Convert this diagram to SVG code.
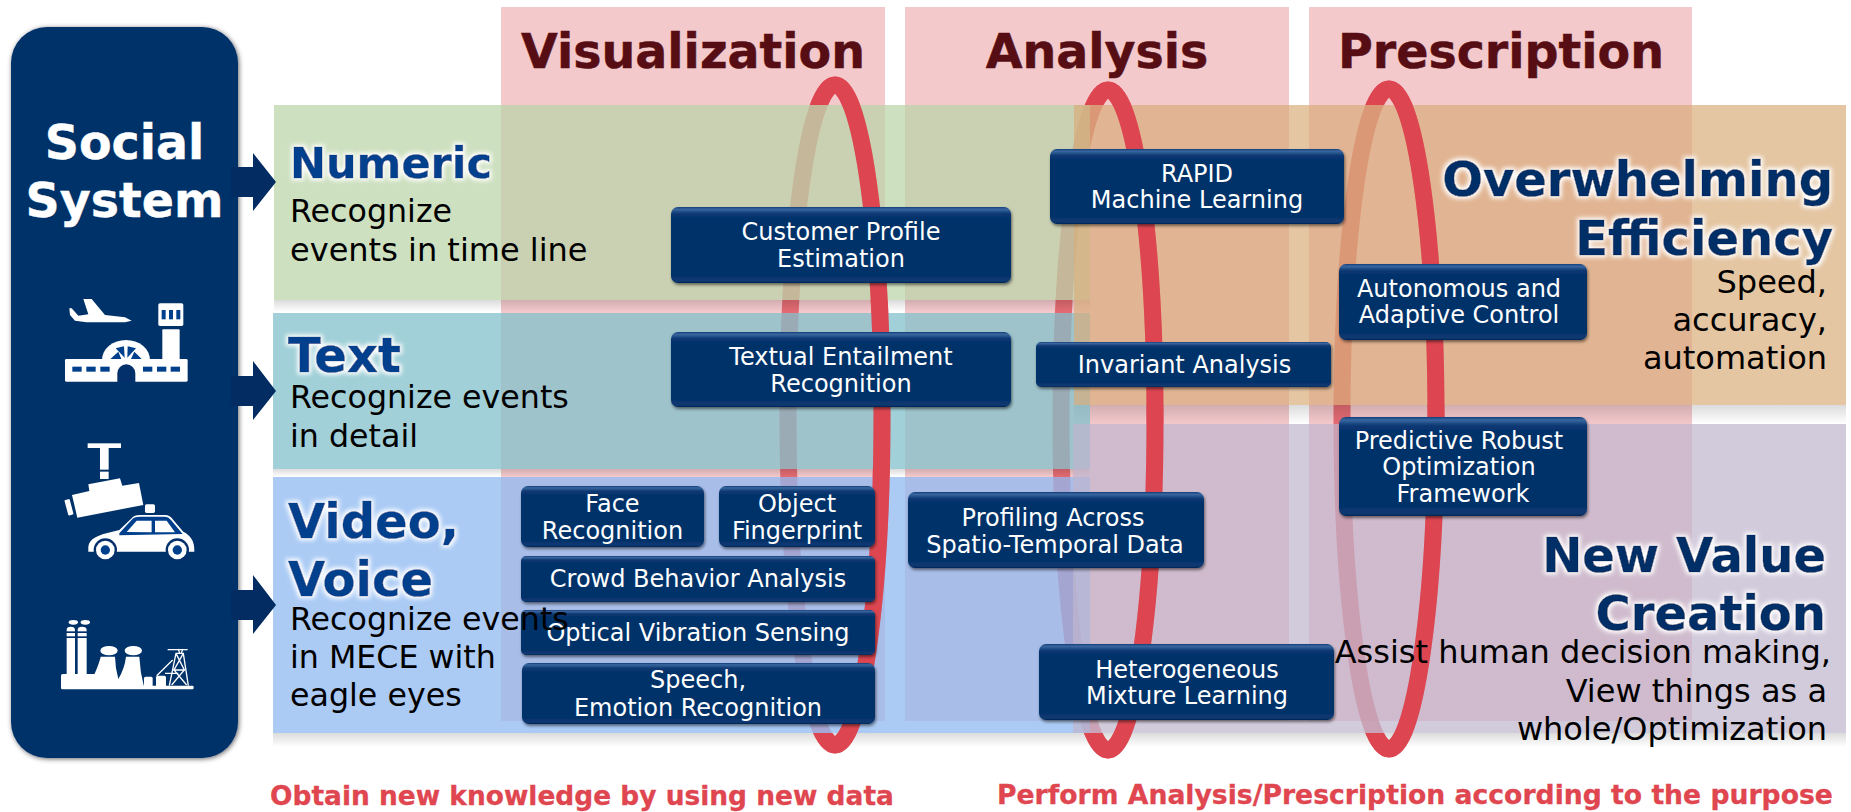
<svg xmlns="http://www.w3.org/2000/svg" width="1851" height="812" viewBox="0 0 1851 812">
<style>
text{font-family:"DejaVu Sans","Verdana",sans-serif}
.col{fill:#f4c9cc}
.ring{fill:none;stroke:#dd4650;stroke-width:17}
.box{fill:url(#boxg);filter:url(#sh)}
.lab{fill:#fff;font-size:24px;text-anchor:middle}
.hd{fill:#570d14;stroke:#570d14;stroke-width:.5;font-size:47.5px;font-weight:bold;text-anchor:middle}
.bt{fill:#003f8c;stroke:#003f8c;stroke-width:.5;font-size:48px;font-weight:bold;filter:url(#glow)}
.rt{fill:#032d66;stroke:#032d66;stroke-width:.5;font-size:48px;font-weight:bold;text-anchor:end;filter:url(#glow)}
.body{fill:#000;font-size:31.7px}
.bodyr{fill:#000;font-size:32px;text-anchor:end}
.foot{fill:#e0464f;stroke:#e0464f;stroke-width:.3;font-size:26.45px;font-weight:bold}
.ic{fill:#fff}
.ib{fill:#003f8c}
.id{fill:#03306b}
.arrow{fill:#032c63}
.sd{fill:url(#bandsh)}
</style>
<defs>
<linearGradient id="boxg" x1="0" y1="0" x2="0" y2="1">
<stop offset="0" stop-color="#123f7c"/><stop offset=".03" stop-color="#3a679f"/><stop offset=".09" stop-color="#0a3771"/><stop offset=".16" stop-color="#03306b"/><stop offset=".9" stop-color="#03306b"/><stop offset=".97" stop-color="#0f3a72"/><stop offset="1" stop-color="#022657"/>
</linearGradient>
<linearGradient id="bandsh" x1="0" y1="0" x2="0" y2="1">
<stop offset="0" stop-color="#000" stop-opacity=".14"/><stop offset="1" stop-color="#000" stop-opacity="0"/>
</linearGradient>
<clipPath id="ringfront">
<rect x="0" y="0" width="1851" height="105"/>
<rect x="0" y="733" width="1851" height="79"/>
<rect x="835" y="0" width="70" height="812"/>
<rect x="1108" y="0" width="70" height="812"/>
<rect x="1389" y="0" width="70" height="812"/>
</clipPath>
<filter id="sh" x="-5%" y="-10%" width="110%" height="125%"><feDropShadow dx="1" dy="2" stdDeviation="1.6" flood-color="#000" flood-opacity=".5"/></filter>
<filter id="sh2" x="-5%" y="-3%" width="110%" height="106%"><feDropShadow dx="1" dy="1" stdDeviation="2.5" flood-color="#000" flood-opacity=".6"/></filter>
<filter id="glow" x="-8%" y="-20%" width="116%" height="140%">
<feMorphology in="SourceAlpha" operator="dilate" radius="1.5" result="d"/>
<feGaussianBlur in="d" stdDeviation="2.2" result="b"/>
<feFlood flood-color="#fff"/><feComposite in2="b" operator="in" result="g"/>
<feMerge><feMergeNode in="g"/><feMergeNode in="SourceGraphic"/></feMerge>
</filter>
</defs>

<g id="columns">
<rect class="col" x="501" y="7" width="384" height="714"/>
<rect class="col" x="905" y="7" width="384" height="714"/>
<rect class="col" x="1309" y="7" width="383" height="714"/>
</g>
<g id="rings-back" opacity=".72">
<ellipse class="ring" cx="835" cy="415" rx="47" ry="330"/>
<ellipse class="ring" cx="1108" cy="420" rx="47" ry="330"/>
<ellipse class="ring" cx="1389" cy="419" rx="47" ry="330"/>
</g>
<g id="band-shadows">
<rect class="sd" x="274" y="300" width="816" height="12"/>
<rect class="sd" x="273" y="469" width="816" height="8"/>
<rect class="sd" x="273" y="733" width="1573" height="14"/>
<rect class="sd" x="1074" y="405" width="772" height="19"/>
</g>
<g id="bands">
<rect x="274" y="105" width="816" height="195" fill="#bad4a8" fill-opacity=".72"/>
<rect x="273" y="313" width="817" height="156" fill="#82c0cb" fill-opacity=".75"/>
<rect x="273" y="477" width="817" height="256" fill="#8eb9f2" fill-opacity=".74"/>
<rect x="1074" y="105" width="772" height="300" fill="#d8ac7a" fill-opacity=".69"/>
<rect x="1073" y="424" width="773" height="309" fill="#bfb5cd" fill-opacity=".7"/>
</g>
<g id="rings-front" clip-path="url(#ringfront)">
<ellipse class="ring" cx="835" cy="415" rx="47" ry="330"/>
<ellipse class="ring" cx="1108" cy="420" rx="47" ry="330"/>
<ellipse class="ring" cx="1389" cy="419" rx="47" ry="330"/>
</g>
<g id="headers">
<text class="hd" x="693" y="68">Visualization</text>
<text class="hd" x="1097" y="68">Analysis</text>
<text class="hd" x="1501" y="68">Prescription</text>
</g>

<g id="social-system">
<rect x="11" y="27" width="227" height="731" rx="36" fill="#03306b" filter="url(#sh2)"/>
<text x="124.500" y="159" fill="#fff" stroke="#fff" stroke-width=".4" font-size="47.500" font-weight="bold" text-anchor="middle">Social</text>
<text x="124.500" y="217" fill="#fff" stroke="#fff" stroke-width=".4" font-size="47.500" font-weight="bold" text-anchor="middle">System</text>
<g id="icon-airport" transform="translate(50 290) scale(.3333)">
<polygon class="ic" points="58,55 65,55 85,77 115,73 100,27 125,27 165,75 225,82 245,92 225,97 110,97 75,92 60,75"/>
<rect class="ic" x="325" y="40" width="75" height="68" rx="5"/>
<rect class="ib" x="335" y="60" width="12" height="28"/><rect class="ib" x="357" y="60" width="12" height="28"/><rect class="ib" x="379" y="60" width="12" height="28"/>
<rect class="ic" x="337" y="118" width="52" height="95" rx="3"/>
<path class="ic" d="M156 210A72 60 0 0 1 300 210Z"/>
<rect class="ic" x="45" y="207" width="368" height="68" rx="4"/>
<polygon class="ib" points="181,207 205,185 214,207"/><polygon class="ib" points="197,175 222,169 224,203"/><polygon class="ib" points="233,169 258,175 232,203"/><polygon class="ib" points="243,207 253,185 275,207"/>
<path class="id" d="M202 276V250A27 27 0 0 1 256 250V276Z"/>
<rect class="ib" x="67" y="230" width="28" height="15"/><rect class="ib" x="109" y="230" width="28" height="15"/><rect class="ib" x="151" y="230" width="28" height="15"/>
<rect class="ib" x="279" y="230" width="28" height="15"/><rect class="ib" x="321" y="230" width="28" height="15"/><rect class="ib" x="362" y="230" width="28" height="15"/>
</g>
<g id="icon-camera-car" transform="translate(0 330) scale(.3333)">
<rect class="ic" x="263" y="340" width="100" height="14"/>
<rect class="ic" x="300" y="354" width="26" height="65"/>
<rect class="ic" x="300" y="425" width="26" height="22"/>
<polygon class="ic" points="216,495 268,483 265,463 360,445 367,467 417,459 430,525 232,563"/>
<rect class="ic" x="199" y="508" width="16" height="48" rx="3" transform="rotate(-15 207 532)"/>
<rect class="ic" x="435" y="523" width="30" height="26" rx="5"/>
<path class="ic" d="M265 665V650C268 625 295 618 310 612L358 600L395 565Q402 555 420 555H495Q510 555 520 570L550 605Q585 622 583 665Z"/>
<path class="ib" d="M358 610L398 566Q404 560 420 560H495Q505 560 513 570L548 612L358 616Z"/>
<polygon class="ic" points="380,606 410,572 455,572 455,607"/>
<polygon class="ic" points="465,572 500,572 525,607 465,607"/>
<circle class="id" cx="316" cy="660" r="35"/><circle class="id" cx="532" cy="660" r="35"/>
<circle class="ic" cx="316" cy="660" r="28"/><circle class="ic" cx="532" cy="660" r="28"/>
<circle class="ib" cx="316" cy="660" r="14"/><circle class="ib" cx="532" cy="660" r="14"/>
</g>
<g id="icon-factory" transform="translate(50 605) scale(.3333)">
<ellipse class="ic" cx="70" cy="52" rx="14" ry="7"/><ellipse class="ic" cx="106" cy="52" rx="14" ry="7"/>
<path class="ic" d="M50 207V75Q50 65 62 65Q75 65 75 75V207ZM83 207V75Q83 65 96 65Q110 65 110 75V207Z"/>
<rect class="id" x="48" y="79" width="64" height="5"/><rect class="id" x="48" y="94" width="64" height="5"/>
<ellipse class="ic" cx="177" cy="137" rx="26" ry="14"/><ellipse class="ic" cx="250" cy="137" rx="26" ry="14"/>
<path class="ic" d="M130 215Q148 175 152 155H195Q196 190 205 222Q224 190 228 155H268Q270 200 282 245H130Z"/>
<rect class="ic" x="33" y="207" width="150" height="40" rx="5"/>
<rect class="ic" x="282" y="215" width="26" height="33" rx="5"/>
<rect class="ic" x="318" y="212" width="30" height="35" rx="5"/>
<rect class="ic" x="33" y="242" width="398" height="11" rx="4"/>
<g fill="none" stroke="#fff" stroke-width="4">
<path d="M358 242L378 145H400L415 242M353 134H413M378 145L403 195L365 240M400 145L372 195L410 240M370 195H405M320 212L368 165M345 205H385"/>
<path d="M385 132L389 145M398 132L394 145"/>
</g>
</g>
</g>

<g id="connectors">
<polygon class="arrow" points="231,167 253,167 253,153 276,182 253,211 253,197 231,197"/>
<polygon class="arrow" points="231,376 253,376 253,361 276,391 253,420 253,406 231,406"/>
<polygon class="arrow" points="231,590 253,590 253,575 276,605 253,634 253,620 231,620"/>
</g>

<g id="customer-profile"><rect class="box" x="671" y="207" width="340" height="76" rx="7"/><text class="lab" x="841" y="240">Customer Profile</text><text class="lab" x="841" y="267">Estimation</text></g>
<g id="textual-entailment"><rect class="box" x="671" y="332" width="340" height="75" rx="7"/><text class="lab" x="841" y="365">Textual Entailment</text><text class="lab" x="841" y="392">Recognition</text></g>
<g id="rapid"><rect class="box" x="1050" y="149" width="294" height="75" rx="7"/><text class="lab" x="1197" y="182">RAPID</text><text class="lab" x="1197" y="208">Machine Learning</text></g>
<g id="invariant"><rect class="box" x="1036" y="342" width="295" height="45" rx="5"/><text class="lab" x="1184.500" y="373">Invariant Analysis</text></g>
<g id="autonomous"><rect class="box" x="1339" y="264" width="248" height="76" rx="7"/><text class="lab" x="1459" y="297">Autonomous and</text><text class="lab" x="1459" y="323">Adaptive Control</text></g>
<g id="predictive"><rect class="box" x="1339" y="417" width="248" height="99" rx="7"/><text class="lab" x="1459" y="449">Predictive Robust</text><text class="lab" x="1459" y="475">Optimization</text><text class="lab" x="1463" y="502">Framework</text></g>
<g id="profiling"><rect class="box" x="908" y="492" width="296" height="76" rx="7"/><text class="lab" x="1053" y="526">Profiling Across</text><text class="lab" x="1055" y="553">Spatio-Temporal Data</text></g>
<g id="heterogeneous"><rect class="box" x="1039" y="644" width="295" height="76" rx="7"/><text class="lab" x="1187" y="678">Heterogeneous</text><text class="lab" x="1187" y="704">Mixture Learning</text></g>
<g id="face"><rect class="box" x="521" y="486" width="183" height="61" rx="7"/><text class="lab" x="612.500" y="512">Face</text><text class="lab" x="612.500" y="539">Recognition</text></g>
<g id="object"><rect class="box" x="719" y="486" width="156" height="61" rx="7"/><text class="lab" x="797" y="512">Object</text><text class="lab" x="797" y="539">Fingerprint</text></g>
<g id="crowd"><rect class="box" x="521" y="556" width="354" height="46" rx="5"/><text class="lab" x="698" y="587">Crowd Behavior Analysis</text></g>
<g id="optical"><rect class="box" x="521" y="610" width="354" height="45" rx="5"/><text class="lab" x="698" y="641">Optical Vibration Sensing</text></g>
<g id="speech"><rect class="box" x="522" y="663" width="353" height="61" rx="7"/><text class="lab" x="698" y="688">Speech,</text><text class="lab" x="698" y="716">Emotion Recognition</text></g>

<g id="numeric"><text class="bt" x="290" y="178" style="font-size:43px">Numeric</text><text class="body" x="290" y="222">Recognize</text><text class="body" x="290" y="261" style="font-size:32px">events in time line</text></g>
<g id="text"><text class="bt" x="288" y="372">Text</text><text class="body" x="290" y="408">Recognize events</text><text class="body" x="290" y="447">in detail</text></g>
<g id="video-voice"><text class="bt" x="288" y="538">Video,</text><text class="bt" x="288" y="596">Voice</text><text class="body" x="290" y="630">Recognize events</text><text class="body" x="290" y="668">in MECE with</text><text class="body" x="290" y="706">eagle eyes</text></g>
<g id="overwhelming-efficiency"><text class="rt" x="1833" y="196">Overwhelming</text><text class="rt" x="1833" y="255">Efficiency</text><text class="bodyr" x="1827" y="293">Speed,</text><text class="bodyr" x="1827" y="331">accuracy,</text><text class="bodyr" x="1827" y="369">automation</text></g>
<g id="new-value-creation"><text class="rt" x="1826" y="572">New Value</text><text class="rt" x="1826" y="630">Creation</text><text class="bodyr" x="1831" y="663">Assist human decision making,</text><text class="bodyr" x="1827" y="702">View things as a</text><text class="bodyr" x="1827" y="740">whole/Optimization</text></g>
<g id="footers"><text class="foot" x="270" y="805">Obtain new knowledge by using new data</text><text class="foot" x="997" y="804" style="font-size:26.65px">Perform Analysis/Prescription according to the purpose</text></g>
</svg>
